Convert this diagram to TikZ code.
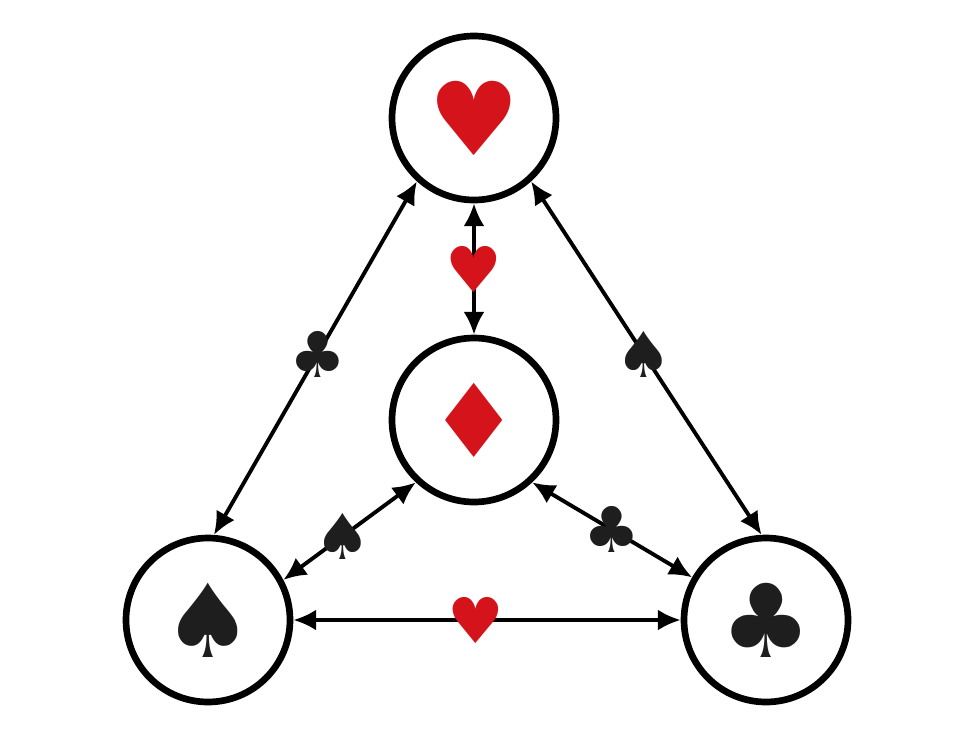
\documentclass[tikz,border=0pt]{standalone}
\usepackage{fontspec}
\newfontfamily\suitfont{DejaVu Sans}
\usetikzlibrary{arrows.meta}
\definecolor{suitred}{HTML}{D4141A}
\definecolor{suitblack}{HTML}{1E1E1E}
\tikzset{
    suit/.style={circle, draw, line width=3.8pt, minimum size=3.28cm, inner sep=0pt},
    link/.style={line width=2.2pt, {Latex[length=13pt,width=12pt]}-{Latex[length=13pt,width=12pt]}},
    big/.style={font=\suitfont\fontsize{58}{58}\selectfont},
    small/.style={font=\suitfont\fontsize{36}{36}\selectfont, inner sep=0pt}
}
\begin{document}
\begin{tikzpicture}
    \useasboundingbox (0,0) rectangle (19.2,14.88);

    \node[suit, big, text=suitred] (hearts) at (9.48,12.52) {♥};
    \node[suit, big, text=suitred] (diamonds) at (9.48,6.48) {♦};
    \node[suit, big, text=suitblack] (spades) at (4.16,2.48) {♠};
    \node[suit, big, text=suitblack] (clubs) at (15.32,2.48) {♣};

    \draw[link] (hearts.228) -- node[small, text=suitblack, pos=0.49] (lclub) {♣} (spades.86.5);
    \draw[link] (hearts.312) -- node[small, text=suitblack, pos=0.49] (rspade) {♠} (clubs.93.5);
    \draw[link] (hearts.270) -- node[small, text=suitred] (cheart) {♥} (diamonds.90);
    \draw[link] (diamonds.227) -- node[small, text=suitblack, pos=0.55] (lspade) {♠} (spades.28);
    \draw[link] (diamonds.313) -- node[small, text=suitblack] (rclub) {♣} (clubs.150);
    \draw[link] (spades.0) -- node[small, text=suitred, pos=0.47] (bheart) {♥} (clubs.180);

\end{tikzpicture}
\end{document}
